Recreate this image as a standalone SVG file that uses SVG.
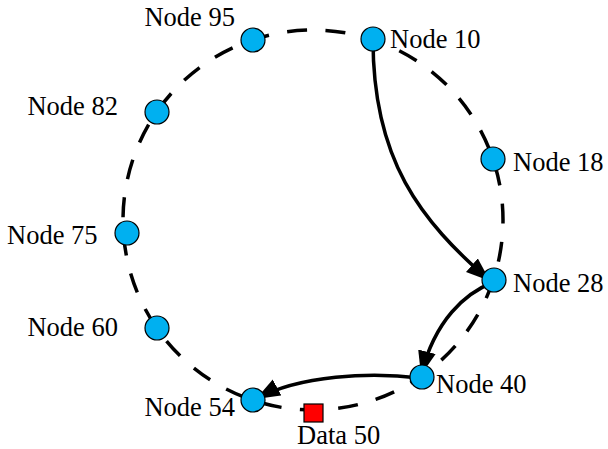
<svg xmlns="http://www.w3.org/2000/svg" width="608" height="449" viewBox="0 0 608 449">
<style>
.ring{fill:none;stroke:#000;stroke-width:3.5;stroke-dasharray:20 18.5;stroke-dashoffset:16.5}
.node{fill:#00B0F0;stroke:#000;stroke-width:1.2}
.data{fill:#FF0000;stroke:#000;stroke-width:1.2}
.arrow{fill:none;stroke:#000;stroke-width:3.5;marker-end:url(#ah)}
text{font-family:"Liberation Serif","Times New Roman",serif;font-size:26.5px;fill:#000}
.r{text-anchor:end}
</style>
<defs>
<marker id="ah" markerUnits="userSpaceOnUse" markerWidth="28" markerHeight="22" refX="24" refY="9" orient="auto">
<path d="M0,0 L24,9 L0,18 Z" fill="#000"/>
</marker>
</defs>
<circle class="ring" cx="313" cy="220" r="190"/>
<g id="connectors">
<path class="arrow" d="M373,40 C373,160 420,220 490,281"/>
<path class="arrow" d="M494,282 C465,293 435,320 421,375"/>
<path class="arrow" d="M420,378 C370,372 300,375 256,399"/>
</g>
<g id="node10"><circle class="node" cx="373" cy="39" r="12"/><text x="390" y="48">Node 10</text></g>
<g id="node18"><circle class="node" cx="493" cy="159" r="12"/><text x="513" y="171">Node 18</text></g>
<g id="node28"><circle class="node" cx="494" cy="280" r="12"/><text x="513" y="292">Node 28</text></g>
<g id="node40"><circle class="node" cx="422" cy="377" r="12"/><text x="436" y="393">Node 40</text></g>
<g id="data50"><rect class="data" x="304" y="404" width="19" height="18"/><text x="297" y="444">Data 50</text></g>
<g id="node54"><circle class="node" cx="253" cy="400" r="12"/><text class="r" x="235" y="416">Node 54</text></g>
<g id="node60"><circle class="node" cx="157" cy="328" r="12"/><text class="r" x="118" y="336">Node 60</text></g>
<g id="node75"><circle class="node" cx="127" cy="233" r="12"/><text x="7" y="244">Node 75</text></g>
<g id="node82"><circle class="node" cx="157" cy="112" r="12"/><text class="r" x="118" y="115">Node 82</text></g>
<g id="node95"><circle class="node" cx="253" cy="40" r="12"/><text class="r" x="235" y="26">Node 95</text></g>
</svg>
